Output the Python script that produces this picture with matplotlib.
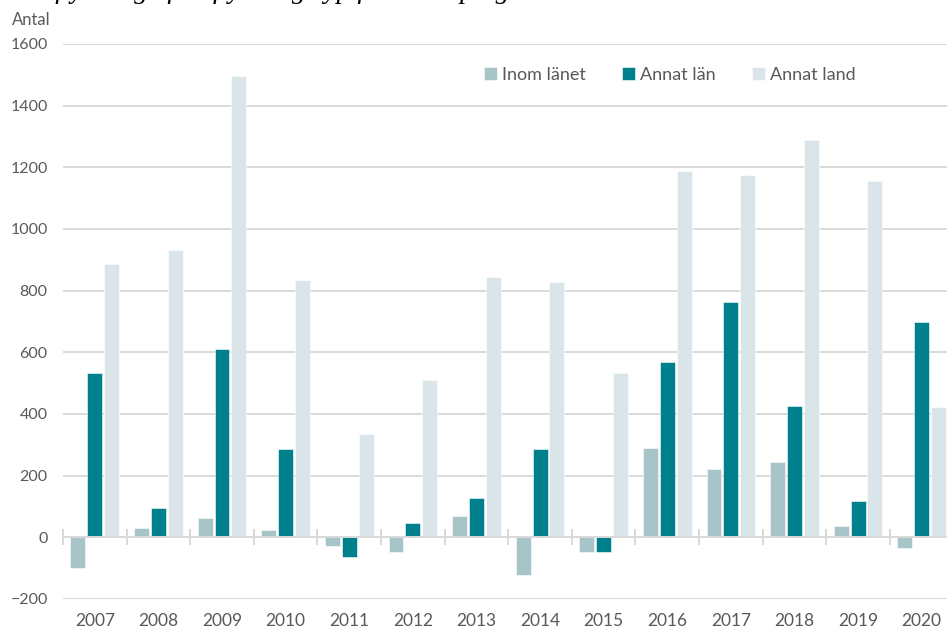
import numpy as np
import matplotlib.pyplot as plt
from matplotlib.ticker import FixedLocator

plt.rcParams['font.family'] = ['Lato', 'DejaVu Sans']

years = ['2007', '2008', '2009', '2010', '2011', '2012', '2013',
         '2014', '2015', '2016', '2017', '2018', '2019', '2020']
inom_lanet = [-99, 31, 64, 24, -27, -46, 70, -123, -47, 289, 222, 245, 37, -36]
annat_lan = [534, 96, 611, 287, -64, 47, 126, 287, -49, 569, 763, 427, 119, 699]
annat_land = [887, 932, 1495, 836, 335, 510, 845, 827, 534, 1187, 1175, 1288, 1156, 424]

series = [('Inom länet', inom_lanet, '#a7c4c8'),
          ('Annat län', annat_lan, '#00808c'),
          ('Annat land', annat_land, '#dae5ea')]

text_col = '#595959'
grid_col = '#d9d9d9'

fig = plt.figure(figsize=(9.47, 6.35), dpi=100)
ax = fig.add_axes([63 / 947, 1 - 599 / 635, 890.5 / 947, 555 / 635])

x = np.arange(len(years))
offset = 0.265
for i, (name, vals, col) in enumerate(series):
    ax.bar(x + (i - 1) * offset, vals, width=0.235, color=col, label=name,
           edgecolor='white', linewidth=0.4, zorder=3)

ax.set_xlim(-0.5, len(years) - 0.5)
ax.set_ylim(-200, 1600)
ax.set_yticks(range(-200, 1601, 200))
ax.grid(axis='y', color=grid_col, linewidth=1.4, zorder=0)
ax.tick_params(axis='y', length=0, pad=11, labelsize=11.5, labelcolor=text_col)

for s in ['top', 'right', 'left']:
    ax.spines[s].set_visible(False)
ax.spines['bottom'].set_position(('data', 0))
ax.spines['bottom'].set_color(grid_col)
ax.spines['bottom'].set_linewidth(1.4)
ax.spines['bottom'].set_zorder(4)
ax.set_xticks([])
ax.xaxis.set_minor_locator(FixedLocator(x - 0.5))
ax.tick_params(axis='x', which='minor', direction='inout', length=11,
               width=1.4, color=grid_col)

sec = ax.secondary_xaxis(0)
sec.set_xticks(x, years)
sec.spines['bottom'].set_visible(False)
sec.tick_params(length=0, pad=10, labelsize=12.5, labelcolor=text_col)

fig.text(12 / 947, 1 - 20 / 635, 'Antal', fontsize=12, color=text_col,
         va='center', ha='left')

# title sits mostly above the top edge, only its descenders show
fig.text(-0.005, 1 + 2.5 / 635, 'Nettoflyttning efter flyttningstyp för Linköpings kommun 2007–2020',
         fontsize=20, style='italic', family='Liberation Serif', va='baseline',
         ha='left', color='black')

leg = ax.legend(loc='center left', bbox_to_anchor=(468 / 947, 1 - 75 / 635),
                bbox_transform=fig.transFigure, ncol=3, frameon=False,
                fontsize=13, handlelength=0.7, handleheight=0.7,
                handletextpad=0.3, columnspacing=2.0)
for t in leg.get_texts():
    t.set_color(text_col)

fig.savefig('out.png', dpi=100)
